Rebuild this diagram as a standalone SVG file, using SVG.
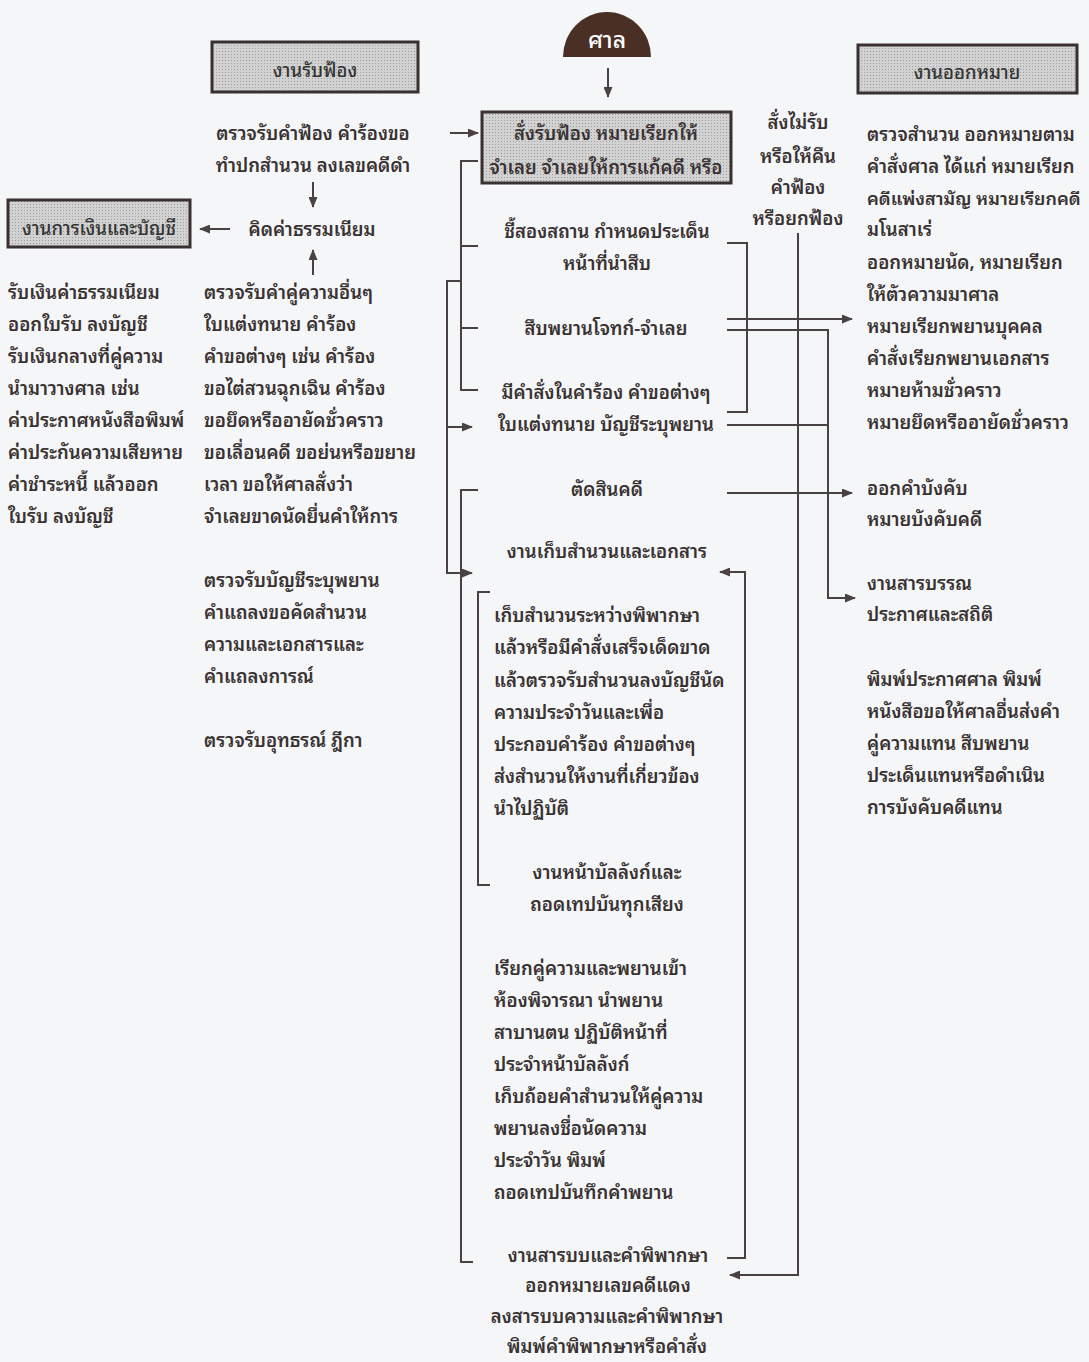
<svg xmlns="http://www.w3.org/2000/svg" width="1089" height="1362" viewBox="0 0 1089 1362">
<style>
.t{font-family:"Noto Sans Thai Looped","Noto Sans Thai","Noto Sans","DejaVu Sans",sans-serif;font-size:18.5px;fill:#3a3232;font-weight:600}
.c{text-anchor:middle}
.bt{font-weight:500;fill:#333}
.box{fill:url(#dots);stroke:#3a3030;stroke-width:3}
.ln{fill:none;stroke:#4a4242;stroke-width:2}
.ar{fill:none;stroke:#4a4242;stroke-width:2;marker-end:url(#ah)}
</style>
<defs>
<pattern id="dots" width="3" height="3" patternUnits="userSpaceOnUse"><rect width="3" height="3" fill="#d2d2d2"/><rect width="1" height="1" fill="#9e9e9e"/></pattern>
<marker id="ah" markerWidth="11" markerHeight="9" refX="10" refY="4.5" orient="auto" markerUnits="userSpaceOnUse"><path d="M0,0 L11,4.5 L0,9 z" fill="#4a4242"/></marker>
</defs>
<rect width="1089" height="1362" fill="#f4f6f8"/>

<g id="court">
<path d="M563,57 A44,45 0 0 1 651,57 Z" fill="#4a2f24"/>
<text class="t c" x="607" y="48" style="fill:#ffffff;font-size:23px;font-weight:500">ศาล</text>
</g>

<g id="box-order">
<rect class="box" x="482" y="112" width="249" height="71"/>
<text class="t c" x="606" y="140">สั่งรับฟ้อง หมายเรียกให้</text>
<text class="t c" x="606" y="174">จำเลย จำเลยให้การแก้คดี หรือ</text>
</g>

<g id="box-receive">
<rect class="box" x="212" y="42" width="206" height="50"/>
<text class="t c bt" x="315" y="77">งานรับฟ้อง</text>
</g>

<g id="box-finance">
<rect class="box" x="8" y="200" width="182" height="47"/>
<text class="t c bt" x="99" y="235">งานการเงินและบัญชี</text>
</g>

<g id="box-warrant">
<rect class="box" x="858" y="45" width="219" height="48"/>
<text class="t c bt" x="967" y="79">งานออกหมาย</text>
</g>

<g id="receive-texts">
<text class="t c" x="313" y="140">ตรวจรับคำฟ้อง คำร้องขอ</text>
<text class="t c" x="313" y="172">ทำปกสำนวน ลงเลขคดีดำ</text>
<text class="t c" x="312" y="236">คิดค่าธรรมเนียม</text>
<text class="t" x="204" y="299">ตรวจรับคำคู่ความอื่นๆ</text>
<text class="t" x="204" y="331">ใบแต่งทนาย คำร้อง</text>
<text class="t" x="204" y="363">คำขอต่างๆ เช่น คำร้อง</text>
<text class="t" x="204" y="395">ขอไต่สวนฉุกเฉิน คำร้อง</text>
<text class="t" x="204" y="427">ขอยึดหรืออายัดชั่วคราว</text>
<text class="t" x="204" y="459">ขอเลื่อนคดี ขอย่นหรือขยาย</text>
<text class="t" x="204" y="491">เวลา ขอให้ศาลสั่งว่า</text>
<text class="t" x="204" y="523">จำเลยขาดนัดยื่นคำให้การ</text>
<text class="t" x="204" y="587">ตรวจรับบัญชีระบุพยาน</text>
<text class="t" x="204" y="619">คำแถลงขอคัดสำนวน</text>
<text class="t" x="204" y="651">ความและเอกสารและ</text>
<text class="t" x="204" y="683">คำแถลงการณ์</text>
<text class="t" x="204" y="747">ตรวจรับอุทธรณ์ ฎีกา</text>
</g>

<g id="finance-texts">
<text class="t" x="8" y="299">รับเงินค่าธรรมเนียม</text>
<text class="t" x="8" y="331">ออกใบรับ ลงบัญชี</text>
<text class="t" x="8" y="363">รับเงินกลางที่คู่ความ</text>
<text class="t" x="8" y="395">นำมาวางศาล เช่น</text>
<text class="t" x="8" y="427">ค่าประกาศหนังสือพิมพ์</text>
<text class="t" x="8" y="459">ค่าประกันความเสียหาย</text>
<text class="t" x="8" y="491">ค่าชำระหนี้ แล้วออก</text>
<text class="t" x="8" y="523">ใบรับ ลงบัญชี</text>
</g>

<g id="center-texts">
<text class="t c" x="607" y="238">ชี้สองสถาน กำหนดประเด็น</text>
<text class="t c" x="607" y="270">หน้าที่นำสืบ</text>
<text class="t c" x="606" y="335">สืบพยานโจทก์-จำเลย</text>
<text class="t c" x="606" y="399">มีคำสั่งในคำร้อง คำขอต่างๆ</text>
<text class="t c" x="606" y="431">ใบแต่งทนาย บัญชีระบุพยาน</text>
<text class="t c" x="607" y="496">ตัดสินคดี</text>
<text class="t c" x="607" y="558">งานเก็บสำนวนและเอกสาร</text>
<text class="t" x="494" y="622">เก็บสำนวนระหว่างพิพากษา</text>
<text class="t" x="494" y="654">แล้วหรือมีคำสั่งเสร็จเด็ดขาด</text>
<text class="t" x="494" y="687">แล้วตรวจรับสำนวนลงบัญชีนัด</text>
<text class="t" x="494" y="719">ความประจำวันและเพื่อ</text>
<text class="t" x="494" y="751">ประกอบคำร้อง คำขอต่างๆ</text>
<text class="t" x="494" y="783">ส่งสำนวนให้งานที่เกี่ยวข้อง</text>
<text class="t" x="494" y="815">นำไปฏิบัติ</text>
<text class="t c" x="607" y="879">งานหน้าบัลลังก์และ</text>
<text class="t c" x="607" y="911">ถอดเทปบันทุกเสียง</text>
<text class="t" x="494" y="975">เรียกคู่ความและพยานเข้า</text>
<text class="t" x="494" y="1007">ห้องพิจารณา นำพยาน</text>
<text class="t" x="494" y="1039">สาบานตน ปฏิบัติหน้าที่</text>
<text class="t" x="494" y="1071">ประจำหน้าบัลลังก์</text>
<text class="t" x="494" y="1103">เก็บถ้อยคำสำนวนให้คู่ความ</text>
<text class="t" x="494" y="1135">พยานลงชื่อนัดความ</text>
<text class="t" x="494" y="1167">ประจำวัน พิมพ์</text>
<text class="t" x="494" y="1199">ถอดเทปบันทึกคำพยาน</text>
<text class="t c" x="608" y="1262">งานสารบบและคำพิพากษา</text>
<text class="t c" x="608" y="1292">ออกหมายเลขคดีแดง</text>
<text class="t c" x="607" y="1323">ลงสารบบความและคำพิพากษา</text>
<text class="t c" x="607" y="1353">พิมพ์คำพิพากษาหรือคำสั่ง</text>
</g>

<g id="reject-texts">
<text class="t c" x="798" y="129">สั่งไม่รับ</text>
<text class="t c" x="798" y="163">หรือให้คืน</text>
<text class="t c" x="798" y="194">คำฟ้อง</text>
<text class="t c" x="798" y="225">หรือยกฟ้อง</text>
</g>

<g id="warrant-texts">
<text class="t" x="867" y="141">ตรวจสำนวน ออกหมายตาม</text>
<text class="t" x="867" y="173">คำสั่งศาล ได้แก่ หมายเรียก</text>
<text class="t" x="867" y="205" style="font-size:18px">คดีแพ่งสามัญ หมายเรียกคดี</text>
<text class="t" x="867" y="236">มโนสาเร่</text>
<text class="t" x="867" y="269">ออกหมายนัด, หมายเรียก</text>
<text class="t" x="867" y="301">ให้ตัวความมาศาล</text>
<text class="t" x="867" y="333">หมายเรียกพยานบุคคล</text>
<text class="t" x="867" y="365">คำสั่งเรียกพยานเอกสาร</text>
<text class="t" x="867" y="397">หมายห้ามชั่วคราว</text>
<text class="t" x="867" y="429">หมายยึดหรืออายัดชั่วคราว</text>
<text class="t" x="867" y="495">ออกคำบังคับ</text>
<text class="t" x="867" y="526">หมายบังคับคดี</text>
<text class="t" x="867" y="590">งานสารบรรณ</text>
<text class="t" x="867" y="621">ประกาศและสถิติ</text>
<text class="t" x="867" y="686">พิมพ์ประกาศศาล พิมพ์</text>
<text class="t" x="867" y="718">หนังสือขอให้ศาลอื่นส่งคำ</text>
<text class="t" x="867" y="750">คู่ความแทน สืบพยาน</text>
<text class="t" x="867" y="782">ประเด็นแทนหรือดำเนิน</text>
<text class="t" x="867" y="814">การบังคับคดีแทน</text>
</g>

<g id="connectors">
<path class="ar" d="M608,68 V97"/>
<path class="ar" d="M450,133 H478"/>
<path class="ar" d="M313,182 V207"/>
<path class="ar" d="M230,229 H200"/>
<path class="ar" d="M313,275 V250"/>
<path class="ln" d="M478,161 H461 V390 H478 M461,246 H478 M461,328 H478"/>
<path class="ar" d="M461,281 H447 V573 H472"/>
<path class="ar" d="M447,427 H472"/>
<path class="ln" d="M478,490 H461 V1262 H473"/>
<path class="ln" d="M490,592 H478 V885 H490"/>
<path class="ln" d="M727,243 H747 V412 H727"/>
<path class="ar" d="M727,319 H852"/>
<path class="ar" d="M727,330 H828 V598 H855"/>
<path class="ln" d="M727,425 H828"/>
<path class="ar" d="M727,493 H852"/>
<path class="ar" d="M798,233 V1275 H730"/>
<path class="ar" d="M727,1258 H745 V572 H720"/>
</g>
</svg>
